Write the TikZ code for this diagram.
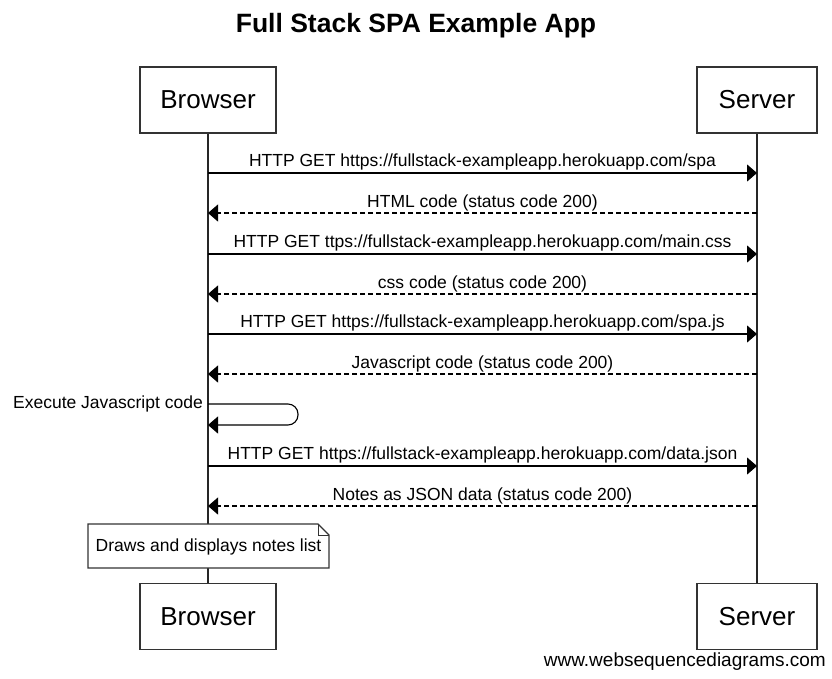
\documentclass[tikz,border=0pt]{standalone}
\usepackage{fontspec}
\setmainfont{Liberation Sans}
\usetikzlibrary{arrows.meta}
\begin{document}
\begin{tikzpicture}[x=1pt,y=-1pt,
  actor/.style={draw=black!80,line width=1.3pt,fill=white,minimum height=66pt,inner sep=0pt,font=\fontsize{26}{30}\selectfont},
  life/.style={line width=1.2pt,draw=black!85},
  msg/.style={line width=1.1pt,-{Triangle[length=10pt,width=17pt]}},
  ret/.style={msg,dash pattern=on 5pt off 3pt},
  lbl/.style={font=\fontsize{17.5}{20}\selectfont,inner sep=0pt}]
\useasboundingbox (0,0) rectangle (832,678);
\fill[white] (0,0) rectangle (832,678);
% title
\node[font=\bfseries\fontsize{26.5}{30}\selectfont] (title) at (416,26) {Full Stack SPA Example App};
% lifelines
\coordinate (bTop) at (208,133);
\coordinate (bBot) at (208,583);
\coordinate (sTop) at (757,133);
\coordinate (sBot) at (757,583);
\draw[life] (bTop) -- (bBot);
\draw[life] (sTop) -- (sBot);
% actors
\node[actor,minimum width=136pt] (bt) at (208,100) {Browser};
\node[actor,minimum width=120pt] (st) at (757,100) {Server};
\node[actor,minimum width=136pt] (bb) at (208,616.5) {Browser};
\node[actor,minimum width=120pt] (sb) at (757,616.5) {Server};
% message points
\foreach \n/\y in {1/173,2/213,3/254,4/294,5/334,6/374,7/404,8/425,9/466,10/506}{
  \coordinate (b\n) at (208,\y);
  \coordinate (s\n) at (757,\y);
}
\draw[msg] (b1) -- node[lbl,above=2pt] (l1) {HTTP GET https://fullstack-exampleapp.herokuapp.com/spa} (s1);
\draw[ret] (s2) -- node[lbl,above=1.5pt] (l2) {HTML code (status code 200)} (b2);
\draw[msg] (b3) -- node[lbl,above=2pt] (l3) {HTTP GET ttps://fullstack-exampleapp.herokuapp.com/main.css} (s3);
\draw[ret] (s4) -- node[lbl,above=1.5pt] (l4) {css code (status code 200)} (b4);
\draw[msg] (b5) -- node[lbl,above=2pt] (l5) {HTTP GET https://fullstack-exampleapp.herokuapp.com/spa.js} (s5);
\draw[ret] (s6) -- node[lbl,above=1.5pt] (l6) {Javascript code (status code 200)} (b6);
% self message
\draw[msg,rounded corners=10pt] (b7) -- (298,404) -- (298,425) -- (b8);
\node[lbl,anchor=east] (l7) at (203,404) {Execute Javascript code};
\draw[msg] (b9) -- node[lbl,above=2pt] (l9) {HTTP GET https://fullstack-exampleapp.herokuapp.com/data.json} (s9);
\draw[ret] (s10) -- node[lbl,above=1.5pt] (l10) {Notes as JSON data (status code 200)} (b10);
% note
\draw[line width=1.1pt,draw=black!80,fill=white] (88,524) -- (318,524) -- (329,535) -- (329,568) -- (88,568) -- cycle;
\draw[line width=1pt,draw=black!80] (318,524) -- (318,535) -- (329,535);
\node[lbl] (note) at (208.5,547) {Draws and displays notes list};
% watermark
\node[font=\fontsize{19}{22}\selectfont,anchor=east,inner sep=0pt] (wm) at (826,662) {www.websequencediagrams.com};
\end{tikzpicture}
\end{document}
